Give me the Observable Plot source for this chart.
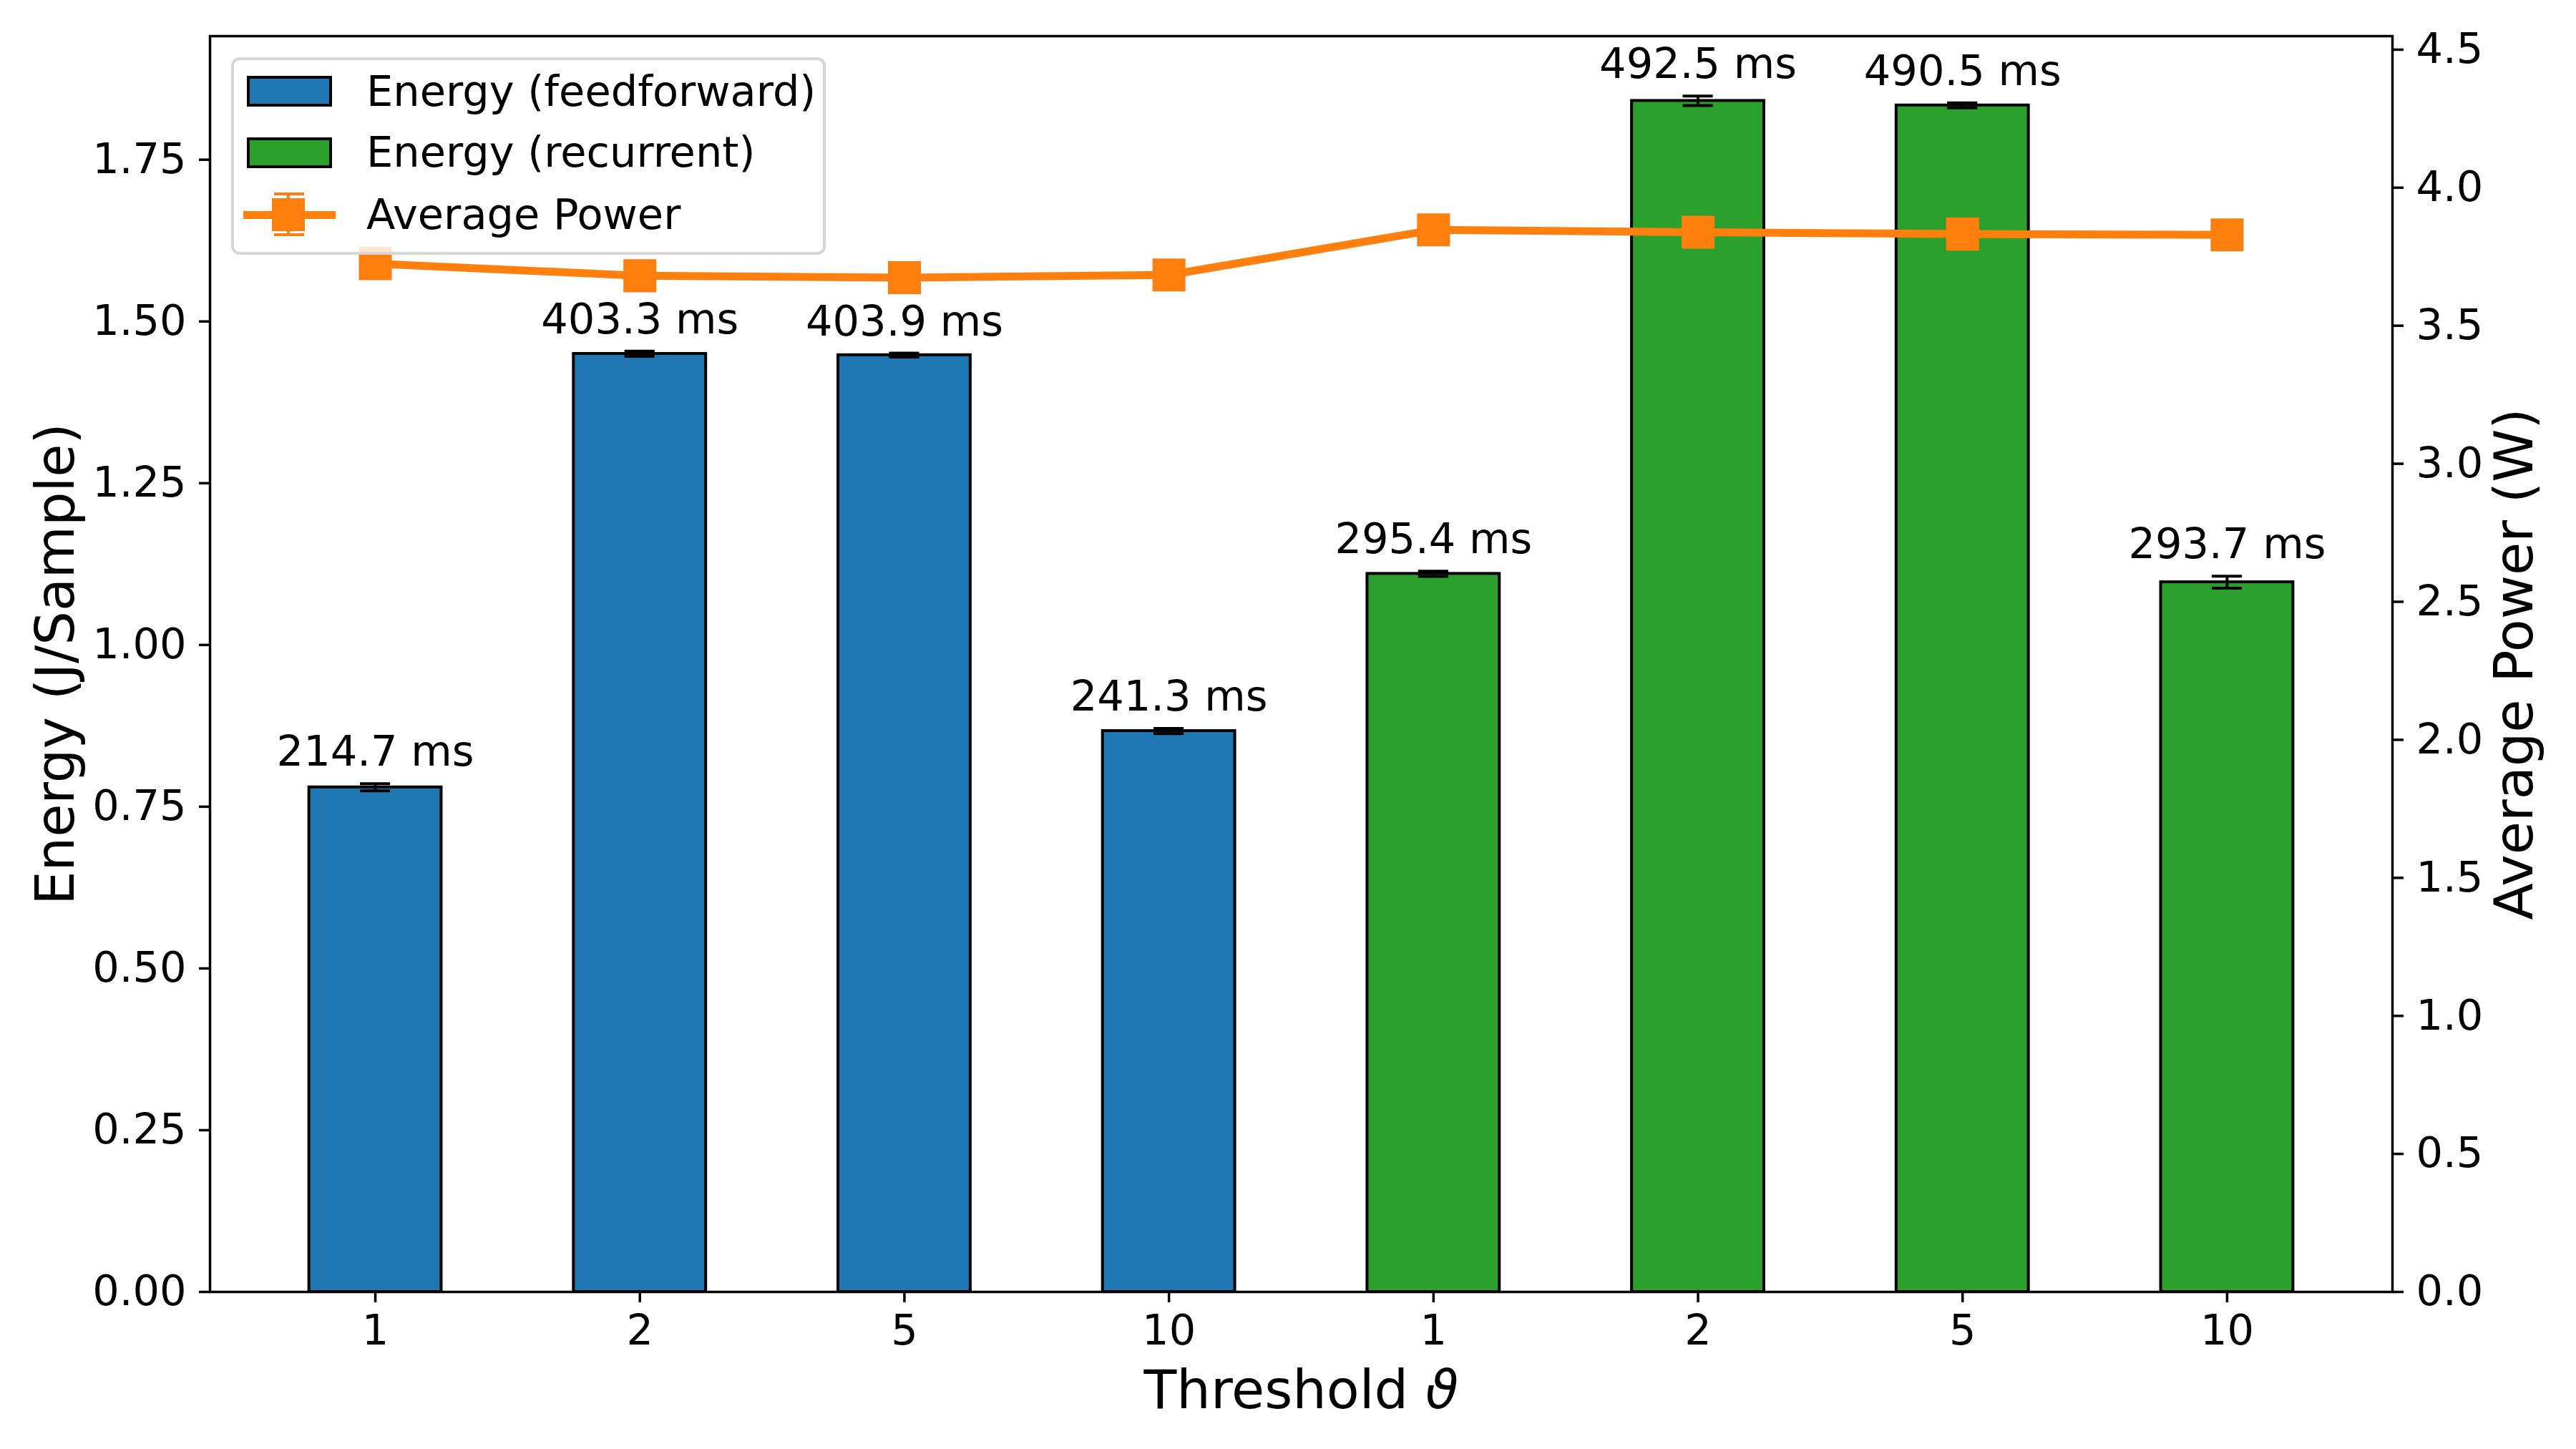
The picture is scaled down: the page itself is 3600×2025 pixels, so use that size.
<!DOCTYPE html>
<html>
<head>
<meta charset="utf-8">
<script src="https://cdn.jsdelivr.net/npm/d3@7"></script>
<script src="https://cdn.jsdelivr.net/npm/@observablehq/plot@0.6"></script>
<style>
  html, body { margin: 0; padding: 0; background: white; }
  #wrap { position: relative; width: 3600px; height: 2025px; font-family: "DejaVu Sans", sans-serif; }
  .lg { position: absolute; box-sizing: border-box; }
  .lgtext { position: absolute; font-size: 59px; line-height: 59px; white-space: nowrap; color: black; }
</style>
</head>
<body>
<div id="wrap"></div>
<script>
// ---- data ----
const thresholds = ["1", "2", "5", "10", "1", "2", "5", "10"];
const models = ["feedforward", "feedforward", "feedforward", "feedforward", "recurrent", "recurrent", "recurrent", "recurrent"];
const energy = [0.780, 1.450, 1.448, 0.867, 1.110, 1.841, 1.834, 1.097];
const energyErr = [0.0056, 0.004, 0.003, 0.004, 0.004, 0.0074, 0.004, 0.0092];
const latencyMs = [214.7, 403.3, 403.9, 241.3, 295.4, 492.5, 490.5, 293.7];
const power = [3.725, 3.681, 3.674, 3.684, 3.847, 3.839, 3.832, 3.829];
const energyTicks = [0, 0.25, 0.5, 0.75, 1.0, 1.25, 1.5, 1.75];
const powerTicks = [0, 0.5, 1.0, 1.5, 2.0, 2.5, 3.0, 3.5, 4.0, 4.5];
const seriesLabels = ["Energy (feedforward)", "Energy (recurrent)", "Average Power"];

// ---- styling ----
const blue = "#1f77b4", green = "#2ca02c", orange = "#ff7f0e";
const yTop = 1.941, powerTop = 4.549;
const k = yTop / powerTop;
const halfBar = 0.25, capHalf = 0.057;
const fs = 59, fsLabel = 75;
const idx = d3.range(energy.length);

const caps = idx.flatMap(i => [
  {i, v: energy[i] - energyErr[i]},
  {i, v: energy[i] + energyErr[i]}
]);

const chart = Plot.plot({
  width: 3600,
  height: 2025,
  marginTop: 50,
  marginRight: 257,
  marginBottom: 220,
  marginLeft: 293,
  style: {fontFamily: "DejaVu Sans", fontSize: fs + "px", background: "white", color: "black"},
  x: {domain: [-0.625, 7.625]},
  y: {domain: [0, yTop]},
  color: {domain: ["feedforward", "recurrent"], range: [blue, green]},
  marks: [
    Plot.rect(idx, {
      x1: i => i - halfBar, x2: i => i + halfBar,
      y1: 0, y2: i => energy[i],
      fill: i => models[i], stroke: "black", strokeWidth: 4
    }),
    Plot.ruleX(idx, {
      x: i => i, y1: i => energy[i] - energyErr[i], y2: i => energy[i] + energyErr[i],
      stroke: "black", strokeWidth: 4
    }),
    Plot.ruleY(caps, {
      x1: d => d.i - capHalf, x2: d => d.i + capHalf, y: d => d.v,
      stroke: "black", strokeWidth: 4
    }),
    Plot.text(idx, {
      x: i => i, y: i => energy[i] + energyErr[i],
      text: i => latencyMs[i].toFixed(1) + " ms",
      dy: -25, lineAnchor: "bottom", fontSize: fs, fill: "black"
    }),
    Plot.line(idx, {
      x: i => i, y: i => power[i] * k,
      stroke: orange, strokeWidth: 11, strokeLinejoin: "round"
    }),
    Plot.dot(idx, {
      x: i => i, y: i => power[i] * k,
      symbol: "square", r: 26, fill: orange, stroke: null
    }),
    Plot.axisX({
      ticks: idx, tickFormat: i => thresholds[i],
      tickSize: 15, tickPadding: 17, fontSize: fs, strokeWidth: 3.5, label: null
    }),
    Plot.axisY({
      ticks: energyTicks, tickFormat: d => d.toFixed(2),
      tickSize: 15, tickPadding: 18, fontSize: fs, strokeWidth: 3.5, label: null
    }),
    Plot.axisY({
      anchor: "right",
      ticks: powerTicks.map(t => t * k), tickFormat: d => (d / k).toFixed(1),
      tickSize: 15, tickPadding: 18, fontSize: fs, strokeWidth: 3.5, label: null
    }),
    Plot.frame({stroke: "black", strokeWidth: 3.5}),
    Plot.text(["Threshold ϑ"], {
      frameAnchor: "bottom", dy: 162, lineAnchor: "bottom", textAnchor: "middle", fontSize: fsLabel, fill: "black"
    }),
    Plot.text(["Energy (J/Sample)"], {
      frameAnchor: "left", dx: -191, rotate: -90, lineAnchor: "bottom", textAnchor: "middle", fontSize: fsLabel, fill: "black"
    }),
    Plot.text(["Average Power (W)"], {
      frameAnchor: "right", dx: 195, rotate: -90, lineAnchor: "bottom", textAnchor: "middle", fontSize: fsLabel, fill: "black"
    })
  ]
});

const wrap = document.getElementById("wrap");
wrap.appendChild(chart);

// italic theta in x label (mathtext style)
d3.select(chart).selectAll("text").each(function() {
  if (this.textContent === "Threshold ϑ") {
    this.textContent = "";
    const t = d3.select(this);
    t.append("tspan").text("Threshold ");
    t.append("tspan").attr("font-style", "italic").text("ϑ");
  }
});

// ---- legend (overlay, semi-transparent like matplotlib) ----
function addDiv(style, text) {
  const d = document.createElement("div");
  d.className = text !== undefined ? "lgtext" : "lg";
  Object.assign(d.style, style);
  if (text !== undefined) d.textContent = text;
  wrap.appendChild(d);
  return d;
}
addDiv({left: "323px", top: "80px", width: "831px", height: "276px",
  background: "rgba(255,255,255,0.8)", border: "4px solid #d6d6d6", borderRadius: "12px"});
addDiv({left: "345px", top: "106px", width: "119px", height: "43px", background: blue, border: "4px solid black"});
addDiv({left: "345px", top: "192px", width: "119px", height: "43px", background: green, border: "4px solid black"});
// power icon: line + errorbar + square marker
addDiv({left: "340px", top: "295px", width: "129px", height: "11px", background: orange});
addDiv({left: "401px", top: "271px", width: "4px", height: "57px", background: orange});
addDiv({left: "383px", top: "269px", width: "42px", height: "4px", background: orange});
addDiv({left: "383px", top: "326px", width: "42px", height: "4px", background: orange});
addDiv({left: "380px", top: "277px", width: "46px", height: "46px", background: orange});
addDiv({left: "512px", top: "98px"}, seriesLabels[0]);
addDiv({left: "512px", top: "183px"}, seriesLabels[1]);
addDiv({left: "512px", top: "270px"}, seriesLabels[2]);
</script>
</body>
</html>
